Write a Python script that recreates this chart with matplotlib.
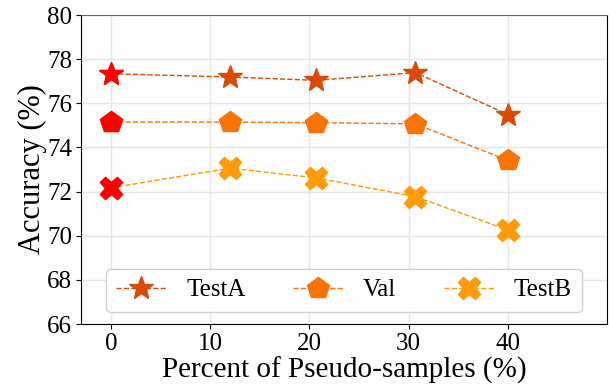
import numpy as np
import matplotlib
matplotlib.use('Agg')
from matplotlib import pyplot as plt

plt.rcParams['font.family'] = ['Liberation Serif', 'DejaVu Serif']
plt.rcParams['mathtext.fontset'] = 'stix'

# data
pct = [0, 12, 20.7, 30.7, 40]
testA = [77.34, 77.19, 77.04, 77.39, 75.49]
val = [75.15, 75.15, 75.12, 75.07, 73.41]
testB = [72.17, 73.06, 72.62, 71.77, 70.26]

series = [
    ('TestA', testA, '*', '#d84a05', 18),
    ('Val', val, 'p', '#fb7303', 16),
    ('TestB', testB, 'X', '#fe9b06', 16),
]

fig = plt.figure(figsize=(6.09, 3.91), dpi=100)
ax = fig.add_axes([81/609, 1-324/391, 526/609, 309/391])
ax.set_facecolor('#fdfdfd')

for name, ys, mk, col, ms in series:
    ax.plot(pct, ys, linestyle='--', linewidth=1.0, color=col, marker=mk,
            markersize=ms, label=name, zorder=3)
    # first point (baseline) drawn in red
    ax.plot(pct[0], ys[0], marker=mk, markersize=ms, color='red',
            linestyle='none', zorder=4)

ax.set_xlim(-3, 50)
ax.set_ylim(66, 80)
ax.set_xticks([0, 10, 20, 30, 40])
ax.set_yticks(np.arange(66, 81, 2))
ax.grid(True, color='#e6e6e6', linewidth=1.0, zorder=0)
ax.tick_params(labelsize=18, pad=3)
ax.set_xlabel('Percent of Pseudo-samples (%)', fontsize=21, labelpad=1)
ax.set_ylabel('Accuracy (%)', fontsize=22, labelpad=0)
ax.spines['top'].set_color('#666666')

ax.legend(loc='lower center', ncol=3, fontsize=18, columnspacing=1.9,
          handlelength=2.0, borderaxespad=0.5, framealpha=0.9)

fig.savefig('out.png', dpi=100)
